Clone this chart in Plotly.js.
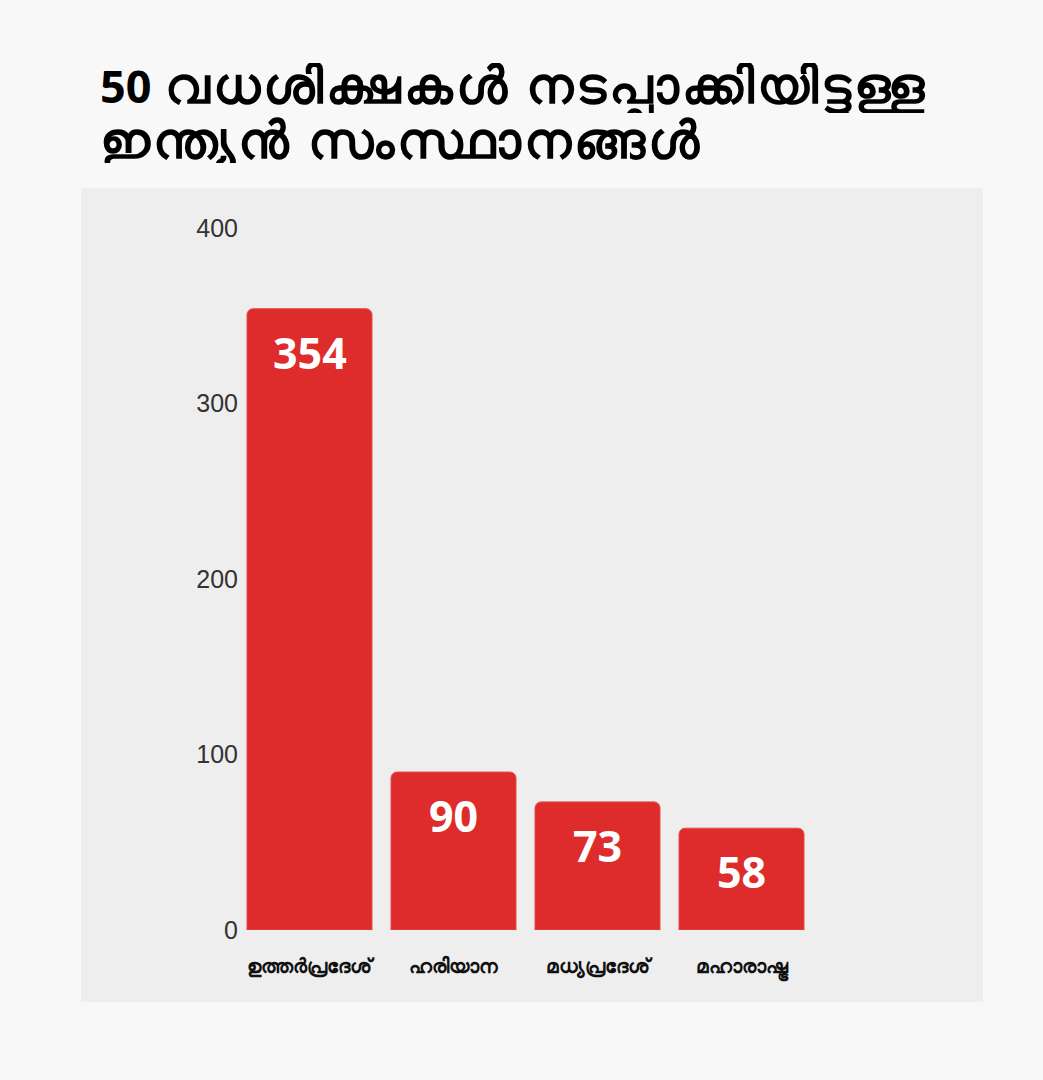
<!DOCTYPE html>
<html><head><meta charset="utf-8">
<script src="https://cdn.plot.ly/plotly-3.0.1.min.js"></script>
<style>html,body{margin:0;padding:0;background:#f8f8f8;}</style>
</head><body><div id="chart" style="width:1043px;height:1080px;"></div>
<script>
var states = ["ഉത്തർപ്രദേശ്", "ഹരിയാന", "മധ്യപ്രദേശ്", "മഹാരാഷ്ട്ര"];
var executions = [354, 90, 73, 58];
var yTicks = [0, 100, 200, 300, 400];
var titleLine1 = "<span style='font-size:45px'>50</span> <span style='letter-spacing:3px'>വധശിക്ഷകൾ നടപ്പാക്കിയിട്ടുള്ള</span>";
var titleLine2 = "<span style='letter-spacing:3px'>ഇന്ത്യൻ സംസ്ഥാനങ്ങൾ</span>";

var L = 241, T = 228, W = 720, H = 702;
var mL = L, mT = T, mR = 1043 - L - W, mB = 1080 - T - H;
function py(p){ return (T + H - p) / H; }
function px(p){ return (p - L) / W; }

var trace = {
  type: "bar",
  x: states,
  y: executions,
  marker: {color: "#de2c2c", cornerradius: 6, line: {color: "#e44a4a", width: 1}},
  width: 0.868,
  hoverinfo: "skip"
};

var annotations = states.map(function(s, i){
  return {x: s, y: executions[i], xref: "x", yref: "y", text: String(executions[i]),
    showarrow: false, yanchor: "top", yshift: -12,
    font: {family: "Noto Sans, Open Sans, sans-serif", size: 43, color: "#ffffff", weight: 700}};
});
var titleFont = {family: "Noto Sans, sans-serif", size: 51, color: "#000000", weight: 700};
annotations.push({xref: "paper", yref: "paper", x: px(98), y: py(88), xanchor: "left", yanchor: "middle",
  height: 50, text: titleLine1, showarrow: false, font: titleFont});
annotations.push({xref: "paper", yref: "paper", x: px(98), y: py(138), xanchor: "left", yanchor: "middle",
  height: 50, text: titleLine2, showarrow: false, font: titleFont});

var layout = {
  width: 1043, height: 1080,
  paper_bgcolor: "#f8f8f8",
  plot_bgcolor: "rgba(0,0,0,0)",
  margin: {l: mL, r: mR, t: mT, b: mB, pad: 0},
  showlegend: false,
  xaxis: {type: "category", range: [-(309.5 - L)/144, (L + W - 309.5)/144],
    showgrid: false, zeroline: false, showline: false, ticks: "", ticklabelstandoff: 22,
    tickfont: {family: "Noto Sans, sans-serif", size: 20, color: "#111111", weight: 600},
    fixedrange: true},
  yaxis: {range: [0, 400], tickvals: yTicks, ticktext: yTicks.map(String),
    showgrid: false, zeroline: false, showline: false, ticks: "", ticklabelstandoff: 2,
    tickfont: {family: "Liberation Sans, Arial, sans-serif", size: 25, color: "#333333"},
    fixedrange: true},
  shapes: [{type: "rect", xref: "paper", yref: "paper", layer: "below",
    x0: px(81), x1: px(983), y0: py(1002), y1: py(188),
    fillcolor: "#eeeeee", line: {width: 0}}],
  annotations: annotations
};

Plotly.newPlot("chart", [trace], layout, {displayModeBar: false, staticPlot: true});
</script></body></html>
